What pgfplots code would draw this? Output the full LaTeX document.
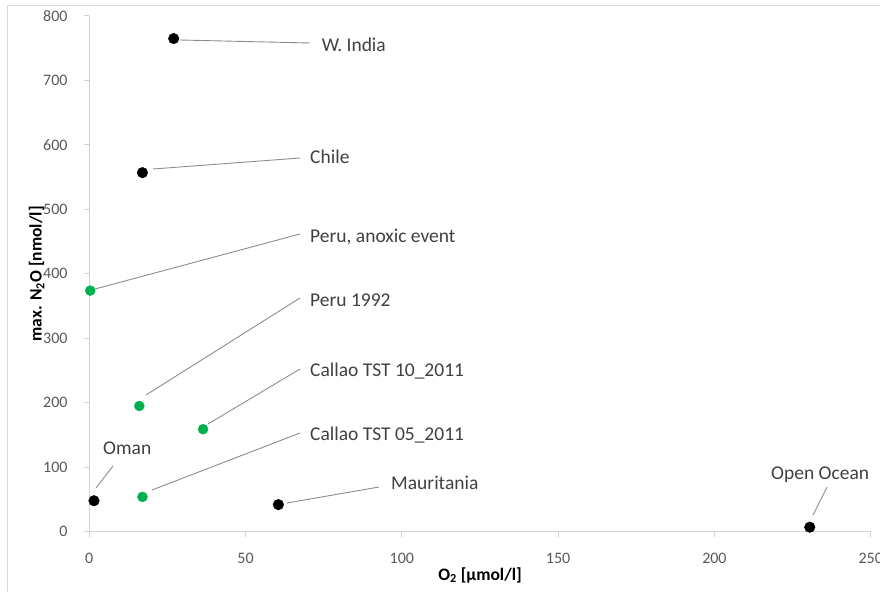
\documentclass[border=0pt]{standalone}
\usepackage{pgfplots}
\pgfplotsset{compat=1.18}
\usepackage{fontspec}
\setmainfont{Carlito}
\definecolor{axisgray}{RGB}{210,210,210}
\definecolor{framegray}{RGB}{217,217,217}
\definecolor{tickgray}{RGB}{89,89,89}
\definecolor{txtgray}{RGB}{64,64,64}
\definecolor{leadgray}{RGB}{140,140,140}
\definecolor{xlgreen}{RGB}{0,176,80}
\begin{document}
\begin{tikzpicture}
\path[use as bounding box] (-89.3pt,-60.3pt) rectangle (790.7pt,531.7pt);
\draw[framegray, line width=1.1pt] (-82pt,-60.3pt) -- (-82pt,526.4pt) -- (790.7pt,526.4pt);
\begin{axis}[
  scale only axis, width=781.4pt, height=515.7pt,
  at={(0pt,0pt)}, anchor=south west,
  xmin=0, xmax=250, ymin=0, ymax=800,
  xtick={0,50,...,250}, ytick={0,100,...,800},
  axis x line*=bottom, axis y line*=left,
  axis line style={draw=axisgray, line width=1pt},
  tick align=outside, major tick length=5pt,
  tick style={draw=axisgray, line width=1pt},
  /pgf/number format/assume math mode=true,
  ticklabel style={font=\fontsize{16}{19}\selectfont, text=tickgray, inner sep=0pt},
  xticklabel style={anchor=base, yshift=-26.6pt},
  yticklabel style={anchor=east, xshift=-16.6pt},
  xlabel={O\textsubscript{2} [µmol/l]},
  ylabel={max. N\textsubscript{2}O [nmol/l]},
  label style={font=\bfseries\fontsize{17.5}{20}\selectfont, text=black, inner sep=0pt},
  xlabel style={at={(rel axis cs:0.5,-0.0937)}, anchor=base},
  ylabel style={at={(rel axis cs:-0.0609,0.5)}, anchor=base, rotate=0},
  clip=false,
]
% black: W. India, Chile, Oman, Mauritania, Open Ocean
\addplot[only marks, mark=*, mark size=5.3pt, mark options={fill=black, draw=black}]
  coordinates {(27,765) (17,557) (1.5,48) (60.5,42) (230.5,7)};
% green: Peru anoxic event, Peru 1992, Callao TST 10_2011, Callao TST 05_2011
\addplot[only marks, mark=*, mark size=5pt, mark options={fill=xlgreen, draw=xlgreen}]
  coordinates {(0.3,374) (16,195) (36.4,159) (17,54)};
\end{axis}
\begin{scope}[leadgray, line width=0.9pt]
\draw (90.7pt,491.7pt) -- (220.7pt,488.7pt);
\draw (63.7pt,362.7pt) -- (210.7pt,373.7pt);
\draw (5.7pt,242.7pt) -- (210.7pt,297.7pt);
\draw (56.7pt,136.7pt) -- (210.7pt,233.7pt);
\draw (118.7pt,107.7pt) -- (210.7pt,162.7pt);
\draw (62.7pt,41.7pt) -- (210.7pt,98.7pt);
\draw (6.7pt,43.7pt) -- (23.7pt,65.7pt);
\draw (197.7pt,28.7pt) -- (289.7pt,44.7pt);
\draw (723.7pt,16.7pt) -- (737.7pt,44.7pt);
\end{scope}
\begin{scope}[every node/.style={anchor=base west, inner sep=0pt, text=txtgray, font=\fontsize{19.5}{23}\selectfont}]
\node at (232.4pt,480pt) {W. India};
\node at (220.7pt,367.7pt) {Chile};
\node at (220.7pt,289pt) {Peru, anoxic event};
\node at (220.7pt,225.7pt) {Peru 1992};
\node at (220.7pt,155pt) {Callao TST 10\_2011};
\node at (220.7pt,91pt) {Callao TST 05\_2011};
\node at (13.7pt,77.7pt) {Oman};
\node at (301.7pt,42.4pt) {Mauritania};
\node at (681.7pt,52.7pt) {Open Ocean};
\end{scope}
\end{tikzpicture}
\end{document}
